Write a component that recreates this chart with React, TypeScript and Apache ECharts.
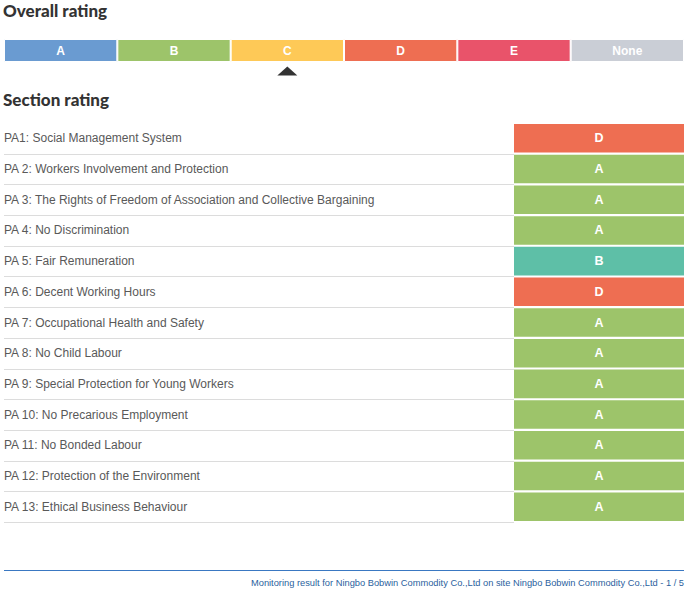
import React, { useEffect, useRef } from 'react';
import * as echarts from 'echarts';

const ratingLevels = ['A', 'B', 'C', 'D', 'E', 'None'];
const ratingLevelColors = ['#6A9BD1', '#9DC46A', '#FEC957', '#EE6E52', '#E9536A', '#CACED6'];
const overallRating = 'C';

const sections = [
  'PA1: Social Management System',
  'PA 2: Workers Involvement and Protection',
  'PA 3: The Rights of Freedom of Association and Collective Bargaining',
  'PA 4: No Discrimination',
  'PA 5: Fair Remuneration',
  'PA 6: Decent Working Hours',
  'PA 7: Occupational Health and Safety',
  'PA 8: No Child Labour',
  'PA 9: Special Protection for Young Workers',
  'PA 10: No Precarious Employment',
  'PA 11: No Bonded Labour',
  'PA 12: Protection of the Environment',
  'PA 13: Ethical Business Behaviour',
];
const sectionRatings = ['D', 'A', 'A', 'A', 'B', 'D', 'A', 'A', 'A', 'A', 'A', 'A', 'A'];
const sectionRatingColors: Record<string, string> = {
  A: '#9DC46A',
  B: '#5EBFA7',
  C: '#FEC957',
  D: '#EE6E52',
  E: '#E9536A',
  None: '#CACED6',
};

const footerText =
  'Monitoring result for Ningbo Bobwin Commodity Co.,Ltd on site Ningbo Bobwin Commodity Co.,Ltd - 1 / 5';

const FONT = "'Liberation Sans', Arial, sans-serif";

export default function App() {
  const ref = useRef<HTMLDivElement>(null);

  useEffect(() => {
    if (!ref.current) return;
    const chart = echarts.init(ref.current, null, { renderer: 'svg' });

    const option: any = {
      animation: false,
      backgroundColor: '#ffffff',
      title: [
        {
          text: 'Overall rating',
          left: 3,
          top: 2,
          padding: 0,
          textStyle: { fontFamily: 'Lato', fontWeight: 900, fontSize: 17, color: '#333333' },
        },
        {
          text: 'Section rating',
          left: 3,
          top: 91,
          padding: 0,
          textStyle: { fontFamily: 'Lato', fontWeight: 900, fontSize: 17, color: '#333333' },
        },
      ],
      grid: [
        { left: 4, width: 680, top: 39, height: 23 },
        { left: 4, width: 680, top: 66, height: 10 },
        { left: 4, width: 510, top: 123, height: 399 },
        { left: 514, width: 170, top: 123, height: 399 },
      ],
      xAxis: [
        { gridIndex: 0, type: 'category', data: ratingLevels, show: false },
        { gridIndex: 1, type: 'category', data: ratingLevels, show: false },
        { gridIndex: 2, type: 'value', min: 0, max: 1, show: false },
        { gridIndex: 3, type: 'value', min: 0, max: 1, show: false },
      ],
      yAxis: [
        { gridIndex: 0, type: 'value', min: 0, max: 1, show: false },
        { gridIndex: 1, type: 'value', min: -1, max: 1, show: false },
        {
          gridIndex: 2,
          type: 'category',
          data: sections,
          inverse: true,
          axisLine: { show: false },
          axisTick: { show: false },
          splitLine: { show: false },
          axisLabel: {
            inside: true,
            margin: 0,
            align: 'left',
            color: '#595959',
            fontSize: 12,
            fontFamily: FONT,
          },
        },
        { gridIndex: 3, type: 'category', data: sections, inverse: true, show: false },
      ],
      series: [
        {
          type: 'bar',
          xAxisIndex: 0,
          yAxisIndex: 0,
          barCategoryGap: '0%',
          data: ratingLevels.map((r, i) => ({
            value: 1,
            name: r,
            itemStyle: { color: ratingLevelColors[i] },
          })),
          itemStyle: { borderColor: '#ffffff', borderWidth: 1 },
          label: {
            show: true,
            position: 'inside',
            formatter: (p: any) => p.name,
            color: '#ffffff',
            fontWeight: 'bold',
            fontSize: 12,
            fontFamily: FONT,
          },
        },
        {
          type: 'scatter',
          xAxisIndex: 1,
          yAxisIndex: 1,
          symbol: 'triangle',
          symbolSize: [20, 9],
          itemStyle: { color: '#000000' },
          data: [[overallRating, 0]],
        },
        {
          type: 'custom',
          xAxisIndex: 2,
          yAxisIndex: 2,
          data: sections.map((s) => [0, s]),
          renderItem: (_params: any, api: any) => {
            const cat = api.value(1);
            const start = api.coord([0, cat]);
            const end = api.coord([1, cat]);
            const band = api.size([0, 1])[1];
            const y = Math.round(start[1] + band / 2) + 0.5;
            return {
              type: 'line',
              shape: { x1: start[0], y1: y, x2: end[0], y2: y },
              style: { stroke: '#dcdcdc', lineWidth: 1 },
            };
          },
        },
        {
          type: 'bar',
          xAxisIndex: 3,
          yAxisIndex: 3,
          barCategoryGap: '7%',
          data: sectionRatings.map((r) => ({
            value: 1,
            name: r,
            itemStyle: { color: sectionRatingColors[r] },
          })),
          label: {
            show: true,
            position: 'inside',
            formatter: (p: any) => p.data.name,
            color: '#ffffff',
            fontWeight: 'bold',
            fontSize: 12.5,
            fontFamily: FONT,
          },
        },
      ],
      graphic: [
        {
          type: 'line',
          shape: { x1: 4, y1: 570.5, x2: 684, y2: 570.5 },
          style: { stroke: '#3a78c2', lineWidth: 1 },
        },
        {
          type: 'text',
          x: 684,
          y: 583,
          style: {
            text: footerText,
            align: 'right',
            verticalAlign: 'middle',
            fill: '#2b5f9e',
            fontSize: 9.3,
            fontFamily: FONT,
          },
        },
      ],
    };

    chart.setOption(option);
    return () => chart.dispose();
  }, []);

  return (
    <div
      ref={ref}
      style={{ position: 'fixed', left: 0, top: 0, width: 689, height: 599 }}
    />
  );
}
